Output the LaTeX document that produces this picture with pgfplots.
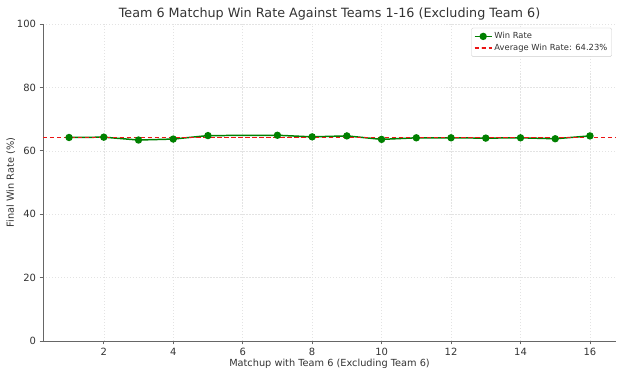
\documentclass[border=0pt]{standalone}
\usepackage{pgfplots}
\pgfplotsset{compat=1.18}
\usepackage{fontspec}
\setmainfont{DejaVu Sans}
\definecolor{txt}{HTML}{333333}
\definecolor{gridc}{HTML}{E3E3E3}
\definecolor{wgreen}{HTML}{008000}
\definecolor{avgred}{RGB}{235,20,20}
\pgfplotsset{
  winstyle/.style={color=wgreen, line width=1.5pt, mark=*, mark size=2.9bp, mark options={fill=wgreen, draw=wgreen, solid}},
  avgstyle/.style={color=avgred, line width=1.5pt, dash pattern=on 4.5pt off 2.5pt, mark=none},
}
\begin{document}
\begin{tikzpicture}
\path[use as bounding box] (0,0) rectangle (630bp,386bp);
\begin{axis}[
  at={(43bp,45bp)}, anchor=south west,
  scale only axis, width=573bp, height=317bp,
  xmin=0.25, xmax=16.75, ymin=0, ymax=100,
  xtick={2,4,...,16}, ytick={0,20,...,100},
  axis x line*=bottom, axis y line*=left,
  axis line style={draw=black!60, line width=0.9pt},
  tick style={draw=black!60, line width=0.6pt},
  tick align=outside, major tick length=3.5bp,
  grid=major, grid style={dash pattern=on 1.5pt off 1.5pt, gridc, line width=0.5pt},
  /pgf/number format/assume math mode=true,
  ticklabel style={font=\fontsize{10}{12}\selectfont, text=txt},
  title={Team 6 Matchup Win Rate Against Teams 1-16 (Excluding Team 6)},
  title style={font=\fontsize{12.8}{15}\selectfont, text=txt, yshift=-6bp},
  xlabel={Matchup with Team 6 (Excluding Team 6)},
  ylabel={Final Win Rate (\%)},
  label style={font=\fontsize{9.8}{12}\selectfont, text=txt},
  xlabel style={yshift=3bp},
  ylabel style={yshift=-5bp},
  legend style={at={(0.993,0.988)}, anchor=north east, font=\fontsize{8.4}{10}\selectfont, text=txt, draw=black!20, rounded corners=1.5pt, fill=white, inner sep=2.5pt, row sep=0pt},
  legend cell align=left,
]
\addplot[winstyle] coordinates {
(1,64.2) (2,64.3) (3,63.4) (4,63.7) (5,64.8) (7,64.9) (8,64.4) (9,64.7) (10,63.6) (11,64.1) (12,64.1) (13,64.0) (14,64.1) (15,63.8) (16,64.7)
};
\addlegendentry{Win Rate}
\addplot[avgstyle] coordinates {(0.25,64.23) (16.75,64.23)};
\addlegendentry{Average Win Rate: 64.23\%}
\end{axis}
\end{tikzpicture}
\end{document}
